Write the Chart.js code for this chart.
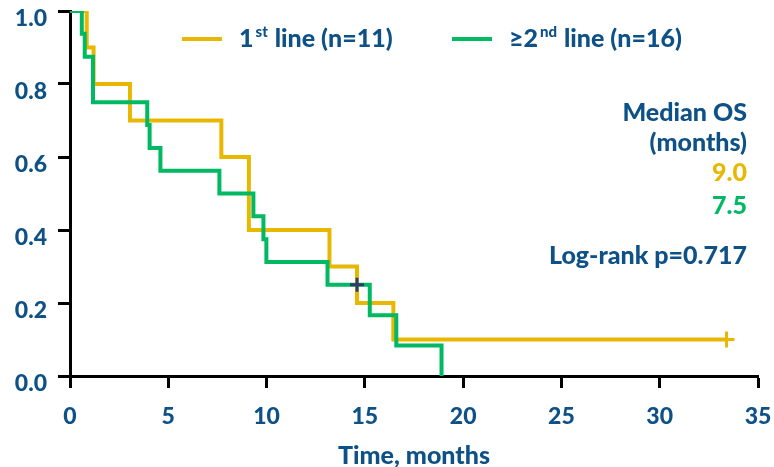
<!DOCTYPE html>
<html>
<head>
<meta charset="utf-8">
<script src="https://cdn.jsdelivr.net/npm/chart.js@4"></script>
<style>
  html, body { margin: 0; padding: 0; background: #ffffff; }
  #wrap { width: 774px; height: 467px; position: relative; }
</style>
</head>
<body>
<div id="wrap"><canvas id="c" width="774" height="467"></canvas></div>
<script>
// ---- Data ----
const firstTimes = [0, 0.85, 1.2, 3.05, 7.7, 9.1, 13.2, 14.6, 16.45, 33.4];
const firstSurv  = [1.0, 0.9, 0.8, 0.7, 0.6, 0.4, 0.3, 0.2, 0.1, 0.1];
const firstCensorTimes = [33.4];
const firstCensorSurv  = [0.1];

const secondTimes = [0, 0.6, 0.75, 1.17, 3.93, 4.05, 4.6, 7.6, 9.33, 9.84, 9.99, 13.1, 14.6, 15.25, 16.6, 18.9];
const secondSurv  = [1.0, 0.9375, 0.875, 0.75, 0.6875, 0.625, 0.5625, 0.5, 0.4375, 0.375, 0.3125, 0.25, 0.25, 0.1667, 0.0833, 0.0];
const secondCensorTimes = [14.6];
const secondCensorSurv  = [0.25];

const xTicks = [0, 5, 10, 15, 20, 25, 30, 35];
const yTicks = [0.0, 0.2, 0.4, 0.6, 0.8, 1.0];

const seriesNames = ['1st line (n=11)', '\u22652nd line (n=16)'];
const medianLabel = ['Median OS', '(months)'];
const medianValues = ['9.0', '7.5'];
const logRankText = 'Log-rank p=0.717';
const xTitle = 'Time, months';

// ---- Styles ----
const NAVY = '#0d5187';
const YELLOW = '#E8B800';
const GREEN = '#00B962';
const CENSOR_NAVY = '#2d3d6a';
const FONT = 'Lato, "Open Sans", sans-serif';
const W = '900';

function pts(xs, ys) { return xs.map((x, i) => ({ x: x, y: ys[i] })); }

const overlay = {
  id: 'overlay',
  afterDraw(chart) {
    const ctx = chart.ctx;
    ctx.save();
    ctx.textBaseline = 'middle';
    // Legend
    const legendY = 39;
    function legendItem(x0, color, parts) {
      ctx.strokeStyle = color;
      ctx.lineWidth = 4;
      ctx.beginPath();
      ctx.moveTo(x0, legendY);
      ctx.lineTo(x0 + 40, legendY);
      ctx.stroke();
      let x = x0 + 57;
      ctx.fillStyle = NAVY;
      ctx.textAlign = 'left';
      for (const p of parts) {
        if (p.sup) {
          ctx.font = W + ' 15px ' + FONT;
          ctx.fillText(p.t, x + 2, legendY - 7);
          x += ctx.measureText(p.t).width + 3;
        } else {
          ctx.font = W + ' 25px ' + FONT;
          ctx.fillText(p.t, x, legendY);
          x += ctx.measureText(p.t).width;
        }
      }
    }
    legendItem(182, YELLOW, [{ t: '1' }, { t: 'st', sup: true }, { t: ' line (n=11)' }]);
    legendItem(452, GREEN, [{ t: '\u22652' }, { t: 'nd', sup: true }, { t: ' line (n=16)' }]);

    // Annotation
    ctx.textAlign = 'right';
    ctx.font = W + ' 25px ' + FONT;
    const rx = 747;
    ctx.fillStyle = NAVY;
    ctx.fillText(medianLabel[0], rx, 113);
    ctx.fillText(medianLabel[1], rx, 143);
    ctx.fillStyle = YELLOW;
    ctx.fillText(medianValues[0], rx, 173);
    ctx.fillStyle = GREEN;
    ctx.fillText(medianValues[1], rx, 206);
    ctx.fillStyle = NAVY;
    ctx.fillText(logRankText, rx, 256);
    ctx.restore();
  }
};

const ctx = document.getElementById('c').getContext('2d');
new Chart(ctx, {
  type: 'line',
  data: {
    datasets: [
      {
        label: seriesNames[1],
        data: pts(secondTimes, secondSurv),
        borderColor: GREEN,
        borderWidth: 4,
        stepped: 'before',
        pointRadius: 0,
        fill: false,
        order: 2
      },
      {
        label: seriesNames[0],
        data: pts(firstTimes, firstSurv),
        borderColor: YELLOW,
        borderWidth: 4,
        stepped: 'before',
        pointRadius: 0,
        fill: false,
        order: 3
      },
      {
        label: 'censor1',
        data: pts(firstCensorTimes, firstCensorSurv),
        showLine: false,
        pointStyle: 'cross',
        pointRadius: 8,
        pointBorderWidth: 3,
        borderColor: YELLOW,
        backgroundColor: YELLOW,
        order: 1
      },
      {
        label: 'censor2',
        data: pts(secondCensorTimes, secondCensorSurv),
        showLine: false,
        pointStyle: 'cross',
        pointRadius: 7,
        pointBorderWidth: 3,
        borderColor: CENSOR_NAVY,
        backgroundColor: CENSOR_NAVY,
        order: 0
      }
    ]
  },
  options: {
    responsive: false,
    animation: false,
    layout: { padding: { left: 0, right: 16, top: 6, bottom: 0 } },
    plugins: {
      legend: { display: false },
      tooltip: { enabled: false }
    },
    scales: {
      x: {
        type: 'linear',
        min: 0,
        max: 35,
        afterBuildTicks(scale) { scale.ticks = xTicks.map(v => ({ value: v })); },
        afterFit(scale) {
          scale.height = 91;
          scale.paddingLeft = 0; scale.paddingRight = 0;
        },
        border: { display: true, color: '#000', width: 3 },
        grid: { display: true, drawOnChartArea: false, drawTicks: true, tickLength: 12, tickWidth: 3, tickColor: '#000' },
        ticks: {
          color: NAVY,
          font: { family: FONT, weight: W, size: 23 },
          padding: 15,
          maxRotation: 0,
          callback: v => String(v)
        },
        title: {
          display: true,
          text: xTitle,
          color: NAVY,
          font: { family: FONT, weight: W, size: 25 },
          padding: { top: 10, bottom: -4 }
        }
      },
      y: {
        type: 'linear',
        min: 0,
        max: 1,
        afterBuildTicks(scale) { scale.ticks = yTicks.map(v => ({ value: v })); },
        afterFit(scale) {
          scale.width = 70;
          scale.paddingTop = 0; scale.paddingBottom = 0;
        },
        border: { display: true, color: '#000', width: 3 },
        grid: { display: true, drawOnChartArea: false, drawTicks: true, tickLength: 12, tickWidth: 3, tickColor: '#000' },
        ticks: {
          color: NAVY,
          font: { family: FONT, weight: W, size: 23 },
          padding: 11,
          labelOffset: 8,
          callback: v => Number(v).toFixed(1)
        }
      }
    }
  },
  plugins: [overlay]
});
</script>
</body>
</html>
